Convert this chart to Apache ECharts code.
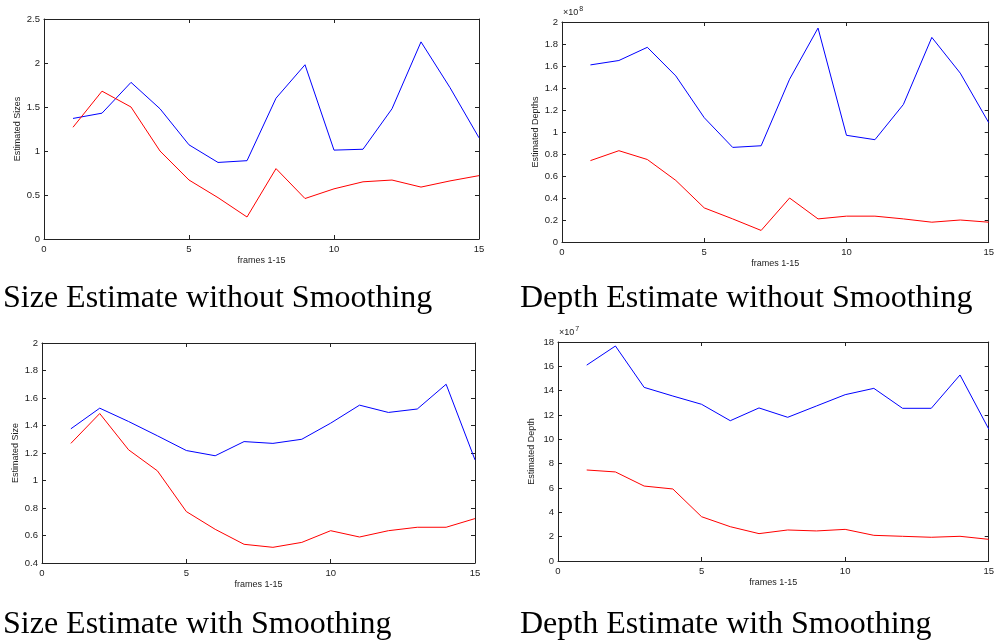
<!DOCTYPE html>
<html>
<head>
<meta charset="utf-8">
<script src="https://cdn.jsdelivr.net/npm/echarts@6/dist/echarts.min.js"></script>
<style>
  html, body { margin: 0; padding: 0; background: #fff; }
  #chart { width: 997px; height: 643px; }
</style>
</head>
<body>
<div id="chart"></div>
<script>
// frame numbers on the x axis
const frames = [1, 2, 3, 4, 5, 6, 7, 8, 9, 10, 11, 12, 13, 14, 15]

// size estimate without smoothing
const sizeRawBlue = [1.37, 1.43, 1.78, 1.48, 1.07, 0.87, 0.89, 1.60, 1.98, 1.01, 1.02, 1.48, 2.24, 1.72, 1.15]
const sizeRawRed = [1.27, 1.68, 1.50, 1.00, 0.67, 0.47, 0.25, 0.80, 0.46, 0.57, 0.65, 0.67, 0.59, 0.66, 0.72]

// depth estimate without smoothing (x 10^8)
const depthRawBlue = [1.61, 1.65, 1.77, 1.51, 1.13, 0.86, 0.875, 1.48, 1.945, 0.97, 0.93, 1.25, 1.86, 1.535, 1.085]
const depthRawRed = [0.74, 0.83, 0.75, 0.56, 0.31, 0.21, 0.105, 0.40, 0.21, 0.235, 0.235, 0.21, 0.18, 0.20, 0.18]

// size estimate with smoothing
const sizeSmBlue = [1.376, 1.526, 1.429, 1.325, 1.218, 1.18, 1.283, 1.27, 1.30, 1.417, 1.548, 1.495, 1.52, 1.70, 1.15]
const sizeSmRed = [1.27, 1.487, 1.223, 1.07, 0.774, 0.645, 0.536, 0.514, 0.55, 0.635, 0.589, 0.635, 0.66, 0.66, 0.723]

// depth estimate with smoothing (x 10^7)
const depthSmBlue = [16.1, 17.67, 14.27, 13.56, 12.88, 11.53, 12.58, 11.81, 12.74, 13.67, 14.19, 12.55, 12.55, 15.29, 10.85]
const depthSmRed = [7.48, 7.32, 6.16, 5.92, 3.64, 2.82, 2.25, 2.55, 2.47, 2.60, 2.11, 2.03, 1.95, 2.03, 1.78]

const xTicks = { min: 0, max: 15, interval: 5 }

const chart = echarts.init(document.getElementById('chart'))

// panel layout: grid box, y range, axis title, series
const panels = [
  { left: 44, top: 19, width: 435, height: 220, yMin: 0, yMax: 2.5, yStep: 0.5, yName: 'Estimated Sizes', blue: sizeRawBlue, red: sizeRawRed, caption: 'Size Estimate without Smoothing' },
  { left: 562, top: 22, width: 432, height: 220, yMin: 0, yMax: 2, yStep: 0.2, yName: 'Estimated Depths', blue: depthRawBlue, red: depthRawRed, caption: 'Depth Estimate without Smoothing', exp: '8' },
  { left: 42, top: 343, width: 433, height: 220, yMin: 0.4, yMax: 2, yStep: 0.2, yName: 'Estimated Size', blue: sizeSmBlue, red: sizeSmRed, caption: 'Size Estimate with Smoothing' },
  { left: 558, top: 342, width: 433, height: 219, yMin: 0, yMax: 18, yStep: 2, yName: 'Estimated Depth', blue: depthSmBlue, red: depthSmRed, caption: 'Depth Estimate with Smoothing', exp: '7' }
]

const lineCol = '#222'
const tickFont = { fontFamily: 'Liberation Sans', fontSize: 9.5, color: '#222' }

const grid = []
const xAxis = []
const yAxis = []
const series = []
const graphic = []

panels.forEach((p, i) => {
  grid.push({ left: p.left, top: p.top, width: p.width, height: p.height, containLabel: false })

  // bottom + top x axes (top one only for the inward ticks)
  xAxis.push({
    gridIndex: i, type: 'value', ...xTicks, position: 'bottom',
    name: 'frames 1-15', nameLocation: 'middle', nameGap: 17,
    nameTextStyle: { fontFamily: 'Liberation Sans', fontSize: 9, color: '#222' },
    axisLine: { onZero: false, lineStyle: { color: lineCol, width: 1 } },
    axisTick: { inside: true, length: 4, lineStyle: { color: lineCol } },
    axisLabel: { ...tickFont, margin: 5 },
    splitLine: { show: false }
  })
  xAxis.push({
    gridIndex: i, type: 'value', ...xTicks, position: 'top',
    axisLine: { show: true, onZero: false, lineStyle: { color: lineCol, width: 1 } },
    axisTick: { inside: true, length: 4, lineStyle: { color: lineCol } },
    axisLabel: { show: false },
    splitLine: { show: false }
  })

  yAxis.push({
    gridIndex: i, type: 'value', min: p.yMin, max: p.yMax, interval: p.yStep, position: 'left',
    name: p.yName, nameLocation: 'middle', nameRotate: 90, nameGap: 22,
    nameTextStyle: { fontFamily: 'Liberation Sans', fontSize: 9, color: '#222' },
    axisLine: { show: true, onZero: false, lineStyle: { color: lineCol, width: 1 } },
    axisTick: { show: true, inside: true, length: 4, lineStyle: { color: lineCol } },
    axisLabel: { ...tickFont, margin: 4 },
    splitLine: { show: false }
  })
  yAxis.push({
    gridIndex: i, type: 'value', min: p.yMin, max: p.yMax, interval: p.yStep, position: 'right',
    axisLine: { show: true, onZero: false, lineStyle: { color: lineCol, width: 1 } },
    axisTick: { show: true, inside: true, length: 4, lineStyle: { color: lineCol } },
    axisLabel: { show: false },
    splitLine: { show: false }
  })

  const mk = (vals, color) => ({
    type: 'line', xAxisIndex: i * 2, yAxisIndex: i * 2,
    data: frames.map((f, k) => [f, vals[k]]),
    showSymbol: false, symbol: 'none', silent: true, animation: false,
    lineStyle: { color: color, width: 1 }
  })
  series.push(mk(p.blue, '#0000ff'))
  series.push(mk(p.red, '#ff0000'))

  // exponent marker above the y axis
  if (p.exp) {
    graphic.push({
      type: 'text', left: p.left + 1, top: p.top - 16,
      style: {
        text: '\u00d710{s|' + p.exp + '}',
        font: '9px Liberation Sans', fill: '#222',
        rich: { s: { fontSize: 7, fontFamily: 'Liberation Sans', verticalAlign: 'top', padding: [0, 0, 6, 1] } }
      }
    })
  }

  // caption under each panel
  const capX = i % 2 === 0 ? 3 : 520
  const capY = i < 2 ? 299 : 625
  graphic.push({
    type: 'text', x: capX, y: capY,
    style: { text: p.caption, font: '32px Liberation Serif', fill: '#000', verticalAlign: 'middle' }
  })
})

chart.setOption({
  backgroundColor: '#fff',
  animation: false,
  grid, xAxis, yAxis, series, graphic
})
</script>
</body>
</html>
